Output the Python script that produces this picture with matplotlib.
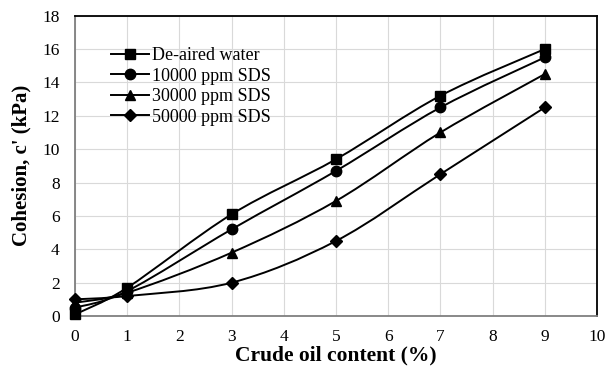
import matplotlib
matplotlib.use("Agg")
import matplotlib.pyplot as plt
from matplotlib.path import Path
from matplotlib.patches import PathPatch
from matplotlib.lines import Line2D
import numpy as np

plt.rcParams["font.family"] = ["Liberation Serif", "DejaVu Serif"]

# Values
oil_content = [0, 1, 3, 5, 7, 9]
deaired_water = [0.1, 1.7, 6.1, 9.4, 13.2, 16.0]
sds_10000 = [0.5, 1.5, 5.2, 8.7, 12.5, 15.5]
sds_30000 = [0.8, 1.4, 3.8, 6.9, 11.0, 14.5]
sds_50000 = [1.0, 1.2, 2.0, 4.5, 8.5, 12.5]

series = [
    ("De-aired water", deaired_water, "s"),
    ("10000 ppm SDS", sds_10000, "o"),
    ("30000 ppm SDS", sds_30000, "^"),
    ("50000 ppm SDS", sds_50000, "D"),
]


def smooth_path(x, y):
    """Excel-style smoothed line as cubic Bezier segments (Catmull-Rom)."""
    p = np.column_stack([x, y]).astype(float)
    ext = np.vstack([p[0], p, p[-1]])
    verts = [p[0]]
    codes = [Path.MOVETO]
    for i in range(len(p) - 1):
        p0, p1, p2, p3 = ext[i], ext[i + 1], ext[i + 2], ext[i + 3]
        c1 = p1 + (p2 - p0) / 6.0
        c2 = p2 - (p3 - p1) / 6.0
        verts += [c1, c2, p2]
        codes += [Path.CURVE4] * 3
    return Path(verts, codes)


fig = plt.figure(figsize=(6.06, 3.74), dpi=100)
ax = fig.add_axes([0.124, 0.155, 0.861, 0.803])

handles = []
for label, vals, marker in series:
    ax.add_patch(PathPatch(smooth_path(oil_content, vals), fill=False,
                           edgecolor="black", lw=1.4, zorder=3))
    ms = 6.5 if marker == "D" else 7.5
    ax.plot(oil_content, vals, linestyle="none", marker=marker, ms=ms,
            color="black", zorder=4, clip_on=False)
    handles.append(Line2D([], [], color="black", lw=1.4, marker=marker,
                          ms=ms, label=label))

ax.set_xlim(0, 10)
ax.set_ylim(0, 18)
ax.set_xticks(range(0, 11))
ax.set_yticks(range(0, 19, 2))
ax.grid(True, color="#d9d9d9", lw=0.8)
ax.set_axisbelow(True)
ax.tick_params(length=0, labelsize=12.5)
ax.tick_params(axis="x", pad=9)
ax.tick_params(axis="y", pad=11)

for side in ("left", "bottom"):
    ax.spines[side].set_color("#7f7f7f")
    ax.spines[side].set_linewidth(1.3)
for side in ("top", "right"):
    ax.spines[side].set_color("black")
    ax.spines[side].set_linewidth(1.3)

ax.set_xlabel("Crude oil content (%)", fontsize=15.5, fontweight="bold", labelpad=1)
ax.set_ylabel("Cohesion, c' (kPa)", fontsize=15, fontweight="bold", labelpad=8)

ax.legend(handles=handles, loc="upper left", bbox_to_anchor=(0.055, 0.92),
          frameon=False, fontsize=13, handlelength=2.1, handletextpad=0.15,
          labelspacing=0.2, borderaxespad=0)

fig.savefig("out.png", dpi=100)
